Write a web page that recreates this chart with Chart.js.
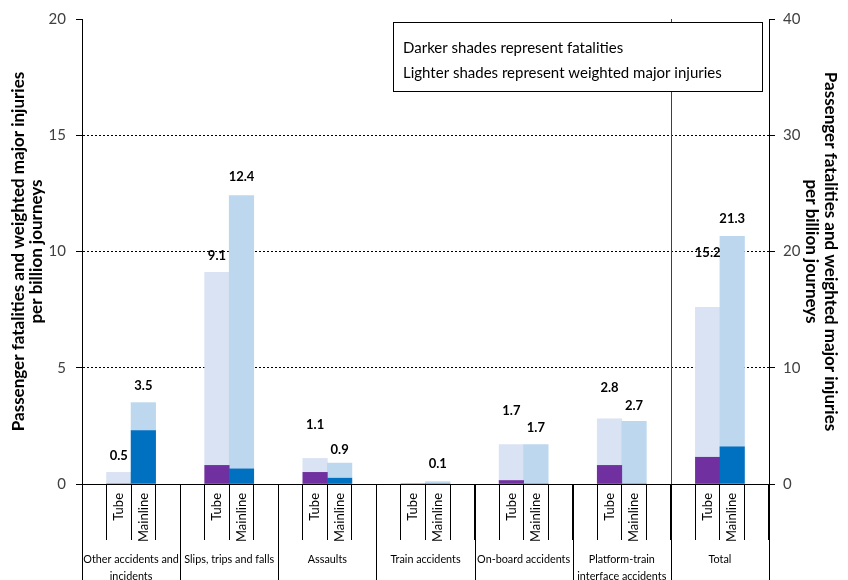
<!DOCTYPE html>
<html>
<head>
<meta charset="utf-8">
<script src="https://cdn.jsdelivr.net/npm/chart.js@4.4.1/dist/chart.umd.min.js"></script>
<style>
  html, body { margin: 0; padding: 0; background: #fff; }
  #wrap { width: 848px; height: 580px; }
</style>
</head>
<body>
<div id="wrap"><canvas id="chart" width="848" height="580"></canvas></div>
<script>
const groups = [
    ['Other accidents and', 'incidents'],
    'Slips, trips and falls',
    'Assaults',
    'Train accidents',
    'On-board accidents',
    ['Platform-train', 'interface accidents'],
    'Total'
];
const modes = ['Tube', 'Mainline'];

// per billion journeys, one value per group (last one = Total, right axis)
const tubeFatal   = [0,   0.8,  0.5,  0,   0.15, 0.8, 2.3];
const tubeInjury  = [0.5, 8.3,  0.6,  0,   1.55, 2.0, 12.9];
const mainFatal   = [2.3, 0.65, 0.25, 0,   0,    0,   3.2];
const mainInjury  = [1.2, 11.75, 0.65, 0.1, 1.7, 2.7, 18.1];

const leftTicks = { min: 0, max: 20, step: 5 };
const rightTicks = { min: 0, max: 40, step: 10 };

const colors = {
    tubeDark: '#7030A0',
    tubeLight: '#DAE3F3',
    mainDark: '#0070C0',
    mainLight: '#BDD7EE'
};

// extra lift of the value labels (px), tube / mainline
const tubeLift = [0, 0, 17, 0, 17, 14, 37];
const mainLift = [0, 2, -4, 1, 0, -2, 1];

const FONT = 'Lato, "Open Sans", sans-serif';
Chart.defaults.font.family = FONT;
Chart.defaults.color = '#000';

// 4 slots per group: gap, Tube, Mainline, gap
const slots = [];
groups.forEach(() => slots.push('', modes[0], modes[1], ''));
const totalIdx = groups.length - 1;

function series(tubeArr, mainArr, onTotal) {
    const out = new Array(slots.length).fill(null);
    groups.forEach((g, i) => {
        if ((i === totalIdx) !== onTotal) return;
        out[i * 4 + 1] = tubeArr[i];
        out[i * 4 + 2] = mainArr[i];
    });
    return out;
}
const darkColors = slots.map(s => s === 'Tube' ? colors.tubeDark : colors.mainDark);
const lightColors = slots.map(s => s === 'Tube' ? colors.tubeLight : colors.mainLight);

const barBase = { categoryPercentage: 1, barPercentage: 1, borderWidth: 0 };
const axisTitle = ['Passenger fatalities and weighted major injuries', 'per billion journeys'];

const frame = {
    id: 'frame',
    afterDraw(chart) {
        const { ctx, chartArea: a, scales: { x } } = chart;
        const w = x.getPixelForValue(1) - x.getPixelForValue(0);
        const edge = k => x.getPixelForValue(k) - w / 2;
        ctx.save();
        ctx.lineWidth = 1;
        // long group separators below the axis
        ctx.strokeStyle = '#000';
        for (let g = 0; g <= groups.length; g++) {
            const px = Math.round(g === groups.length ? a.right : edge(g * 4)) + 0.5;
            ctx.beginPath();
            ctx.moveTo(px, a.bottom);
            ctx.lineTo(px, chart.height);
            ctx.stroke();
        }
        // divider before Total
        const dx = Math.round(edge(totalIdx * 4)) + 0.5;
        ctx.strokeStyle = '#404040';
        ctx.beginPath();
        ctx.moveTo(dx, a.top);
        ctx.lineTo(dx, a.bottom);
        ctx.stroke();

        // note box
        const bx = a.left + 311, by = a.top + 3, bw = a.right - 7 - bx, bh = 69;
        ctx.fillStyle = '#fff';
        ctx.fillRect(bx, by, bw, bh);
        ctx.strokeStyle = '#000';
        ctx.strokeRect(Math.round(bx) + 0.5, Math.round(by) + 0.5, Math.round(bw), bh);
        ctx.fillStyle = '#000';
        ctx.font = '15px ' + FONT;
        ctx.textBaseline = 'middle';
        ctx.textAlign = 'left';
        ctx.fillText('Darker shades represent fatalities', bx + 10, by + 26);
        ctx.fillText('Lighter shades represent weighted major injuries', bx + 10, by + 51);

        // value labels
        ctx.font = 'bold 13px ' + FONT;
        ctx.textAlign = 'center';
        groups.forEach((g, i) => {
            const meta = chart.getDatasetMeta(i === totalIdx ? 3 : 1);
            [[tubeFatal, tubeInjury, tubeLift, 1], [mainFatal, mainInjury, mainLift, 2]].forEach(([f, inj, lift, off]) => {
                const sum = f[i] + inj[i];
                if (!sum) return;
                const el = meta.data[i * 4 + off];
                ctx.fillText(sum.toFixed(1), el.x, el.y - 17 - lift[i]);
            });
        });
        ctx.restore();
    }
};

new Chart(document.getElementById('chart'), {
    type: 'bar',
    data: {
        labels: slots,
        datasets: [
            { ...barBase, label: 'Fatalities', data: series(tubeFatal, mainFatal, false), backgroundColor: darkColors, yAxisID: 'y' },
            { ...barBase, label: 'Weighted major injuries', data: series(tubeInjury, mainInjury, false), backgroundColor: lightColors, yAxisID: 'y' },
            { ...barBase, label: 'Fatalities (total)', data: series(tubeFatal, mainFatal, true), backgroundColor: darkColors, yAxisID: 'y2' },
            { ...barBase, label: 'Weighted major injuries (total)', data: series(tubeInjury, mainInjury, true), backgroundColor: lightColors, yAxisID: 'y2' }
        ]
    },
    options: {
        responsive: false,
        animation: false,
        layout: { padding: { top: 19, left: 0, right: 0, bottom: 0 } },
        plugins: {
            legend: { display: false },
            tooltip: { enabled: false }
        },
        scales: {
            x: {
                stacked: true,
                offset: true,
                grid: { offset: true, drawOnChartArea: false, tickLength: 56, color: '#000' },
                border: { color: '#000' },
                ticks: { autoSkip: false, minRotation: 90, maxRotation: 90, padding: -47, font: { size: 13 } },
                afterFit: s => { s.height = 60; s.paddingLeft = 0; s.paddingRight = 0; }
            },
            x2: {
                type: 'category',
                labels: groups,
                position: 'bottom',
                weight: 1,
                offset: true,
                grid: { display: false },
                border: { display: false },
                ticks: { autoSkip: false, minRotation: 0, maxRotation: 0, padding: -1, font: { size: 10.8, lineHeight: 1.55 } },
                afterFit: s => { s.height = 36; s.paddingLeft = 0; s.paddingRight = 0; }
            },
            y: {
                stacked: true,
                position: 'left',
                min: leftTicks.min,
                max: leftTicks.max,
                ticks: { stepSize: leftTicks.step, padding: 10, color: '#404040', font: { size: 15 } },
                grid: {
                    color: c => c.tick && c.tick.value > leftTicks.min && c.tick.value < leftTicks.max ? '#000' : 'rgba(0,0,0,0)',
                    tickColor: '#000',
                    tickLength: 6
                },
                border: { color: '#000', dash: [2, 2] },
                title: {
                    display: true,
                    text: axisTitle,
                    font: { size: 17, weight: 'bold', lineHeight: 1.09 },
                    padding: { top: 9, bottom: 0 }
                },
                afterFit: s => { s.width = 82; s.paddingTop = 0; s.paddingBottom = 0; }
            },
            y2: {
                stacked: true,
                position: 'right',
                min: rightTicks.min,
                max: rightTicks.max,
                ticks: { stepSize: rightTicks.step, padding: 8, color: '#404040', font: { size: 15 } },
                grid: { drawOnChartArea: false, tickColor: '#000', tickLength: 6 },
                border: { color: '#000' },
                title: {
                    display: true,
                    text: axisTitle,
                    font: { size: 17, weight: 'bold', lineHeight: 1.09 },
                    padding: { top: 8.5, bottom: 0 }
                },
                afterFit: s => { s.width = 79; s.paddingTop = 0; s.paddingBottom = 0; }
            }
        }
    },
    plugins: [frame]
});
</script>
</body>
</html>
